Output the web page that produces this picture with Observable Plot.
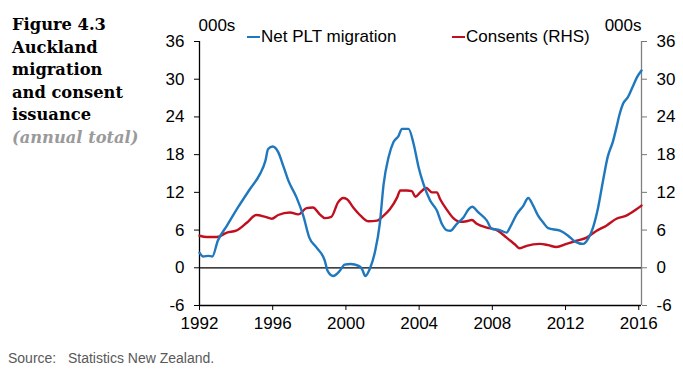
<!DOCTYPE html>
<html>
<head>
<meta charset="utf-8">
<script src="https://cdn.jsdelivr.net/npm/d3@7"></script>
<script src="https://cdn.jsdelivr.net/npm/@observablehq/plot@0.6"></script>
<style>
  html, body { margin: 0; padding: 0; background: #fff; }
  #wrap { position: relative; width: 683px; height: 371px; overflow: hidden; font-family: "Liberation Sans", Arial, sans-serif; }
  #chart { position: absolute; left: 0; top: 0; }
  #title { position: absolute; left: 12px; top: 14px; font-family: "DejaVu Serif", serif; font-weight: bold; font-size: 16.3px; line-height: 22.5px; color: #000; }
  #title .sub { font-style: italic; color: #9a9a9a; }
  .leg { position: absolute; top: 27px; height: 20px; display: flex; align-items: center; font-size: 17px; color: #000; white-space: nowrap; }
  .leg .sw { display: inline-block; width: 13px; height: 2.5px; margin-right: 1px; }
  #source { position: absolute; left: 8px; top: 350px; font-size: 14px; line-height: 16px; color: #595959; white-space: pre; }
</style>
</head>
<body>
<div id="wrap">
  <div id="chart"></div>
  <div id="title">Figure 4.3<br>Auckland<br>migration<br>and consent<br>issuance<br><span class="sub">(annual total)</span></div>
  <div class="leg" style="left:247px"><span class="sw" style="background:#1F78BE"></span>Net PLT migration</div>
  <div class="leg" style="left:452px"><span class="sw" style="background:#C00F1E"></span>Consents (RHS)</div>
  <div id="source">Source:   Statistics New Zealand.</div>
</div>
<script>
const xTicks = [1992, 1996, 2000, 2004, 2008, 2012, 2016];
const yTicks = [-6, 0, 6, 12, 18, 24, 30, 36];
const unitLabel = "000s";
const seriesNames = ["Net PLT migration", "Consents (RHS)"];

const migYear = [1992.0,1992.2,1992.5,1992.7,1993.0,1993.5,1994.1,1994.75,1995.3,1995.6,1995.75,1996.0,1996.3,1996.6,1996.85,1997.3,1997.67,1998.0,1998.4,1998.85,1999.0,1999.3,1999.66,1999.93,2000.25,2000.7,2000.88,2001.06,2001.33,2001.6,2001.85,2002.06,2002.33,2002.6,2002.88,2003.06,2003.42,2003.7,2003.97,2004.24,2004.6,2004.97,2005.24,2005.5,2005.7,2006.06,2006.42,2006.7,2006.9,2007.24,2007.7,2007.97,2008.4,2008.78,2008.96,2009.33,2009.7,2009.96,2010.23,2010.5,2010.78,2011.05,2011.7,2012.14,2012.5,2012.96,2013.23,2013.5,2013.78,2014.05,2014.3,2014.6,2014.78,2014.96,2015.14,2015.4,2015.7,2015.9,2016.15];
const migValue = [2.4,1.8,1.9,1.8,4.3,6.7,9.6,12.5,14.9,17.0,18.9,19.3,18.4,16.0,13.9,11.2,8.3,4.8,3.2,1.1,-0.5,-1.3,-0.5,0.5,0.6,0.3,-0.2,-1.3,0,2.7,7.0,13.3,17.6,20.0,21.0,22.1,22.1,19.7,16.0,13.3,10.7,9.1,7.0,6.0,5.9,7.0,8.0,9.3,9.7,8.8,7.5,6.2,6.0,5.6,6.4,8.5,9.9,11.1,9.9,8.3,7.2,6.3,5.9,5.1,4.2,3.8,4.6,6.4,9.6,13.9,17.6,20.2,22.3,24.5,26.1,27.1,29.0,30.3,31.4];

const consYear = [1992.0,1992.4,1992.95,1993.5,1994.0,1994.6,1995.1,1995.6,1995.95,1996.3,1996.94,1997.4,1997.85,1998.2,1998.57,1998.85,1999.2,1999.57,1999.85,2000.06,2000.4,2000.8,2001.24,2001.7,2002.06,2002.4,2002.8,2002.97,2003.33,2003.6,2003.8,2004.06,2004.4,2004.7,2004.97,2005.15,2005.5,2005.87,2006.24,2006.6,2006.88,2007.15,2007.7,2008.24,2008.78,2009.24,2009.5,2009.87,2010.6,2011.05,2011.5,2012.05,2012.6,2013.15,2013.7,2014.23,2014.78,2015.32,2015.87,2016.15];
const consValue = [5.1,4.9,4.9,5.6,5.9,7.2,8.4,8.1,7.8,8.4,8.8,8.5,9.5,9.6,8.5,7.9,8.1,10.4,11.1,10.9,9.6,8.3,7.4,7.5,8.3,9.3,11.2,12.3,12.3,12.2,11.3,12.0,12.7,12.0,12.0,10.9,9.3,7.9,7.3,7.4,7.6,7.0,6.4,6.0,4.8,3.7,3.1,3.5,3.8,3.6,3.3,3.8,4.3,4.8,5.9,6.7,7.8,8.3,9.3,9.9];

const mig = migYear.map((x, i) => ({x, y: migValue[i]}));
const cons = consYear.map((x, i) => ({x, y: consValue[i]}));

const xEnd = 2016.15;

const plot = Plot.plot({
  width: 683,
  height: 340,
  marginLeft: 199,
  marginRight: 42,
  marginTop: 41,
  marginBottom: 35,
  style: { fontFamily: "'Liberation Sans', Arial, sans-serif", fontSize: "17px", color: "#000", background: "#fff", overflow: "visible" },
  x: { domain: [1992, xEnd] },
  y: { domain: [-6, 36] },
  marks: [
    Plot.axisX({ ticks: xTicks, tickFormat: d => String(d), tickSize: 5, tickPadding: 6, label: null, stroke: "#000" }),
    Plot.axisY({ anchor: "left", ticks: yTicks, tickFormat: d => String(d), tickSize: 5, tickPadding: 10, label: null, stroke: "#000" }),
    Plot.axisY({ anchor: "right", ticks: yTicks, tickFormat: d => String(d), tickSize: 5, tickPadding: 10, label: null, stroke: "#777" }),
    Plot.ruleX([1992], { stroke: "#000", strokeWidth: 1.3 }),
    Plot.ruleX([xEnd], { stroke: "#808080", strokeWidth: 1.3 }),
    Plot.ruleY([-6], { stroke: "#000", strokeWidth: 1.3 }),
    Plot.ruleY([0], { stroke: "#000", strokeWidth: 1.2 }),
    Plot.line(cons, { x: "x", y: "y", stroke: "#C00F1E", strokeWidth: 2.4, curve: "monotone-x" }),
    Plot.line(mig, { x: "x", y: "y", stroke: "#1F78BE", strokeWidth: 2.4, curve: "monotone-x" }),
    Plot.text([unitLabel], { frameAnchor: "top-left", lineAnchor: "middle", text: d => d, dy: -16, dx: -1, fontSize: 17 }),
    Plot.text([unitLabel], { frameAnchor: "top-right", lineAnchor: "middle", text: d => d, dy: -16, dx: 0, fontSize: 17 })
  ]
});
document.getElementById("chart").appendChild(plot);
</script>
</body>
</html>
